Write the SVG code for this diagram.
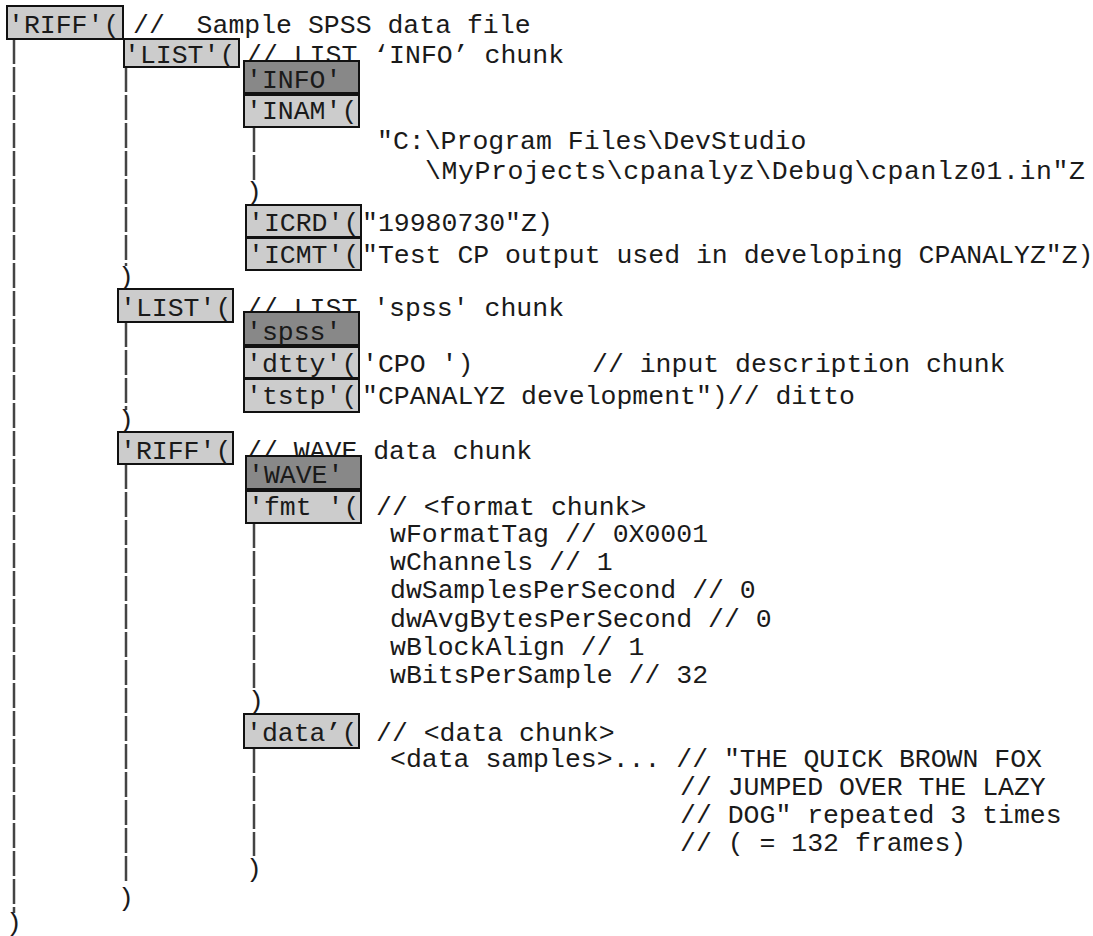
<svg xmlns="http://www.w3.org/2000/svg" width="1093" height="936" viewBox="0 0 1093 936" xml:space="preserve">
<defs>
<style>
.t{font-family:"Liberation Mono","Courier New",monospace;font-size:26.5px;fill:#1a1a1a;white-space:pre}
.b{fill:#cccccc;stroke:#111;stroke-width:2}
.d{fill:#888888;stroke:#111;stroke-width:2}
.v{stroke:#444;stroke-width:2.5;stroke-dasharray:25 3;fill:none}
</style>
</defs>
<rect x="0" y="0" width="1093" height="936" fill="#fff"/>
<g id="connectors">
<line class="v" x1="14" y1="39" x2="14" y2="913"/>
<line class="v" x1="126" y1="67" x2="126" y2="266"/>
<line class="v" x1="126" y1="322" x2="126" y2="410"/>
<line class="v" x1="126" y1="464" x2="126" y2="884"/>
<line class="v" x1="254" y1="127" x2="254" y2="180"/>
<line class="v" x1="254" y1="523" x2="254" y2="688"/>
<line class="v" x1="254" y1="748" x2="254" y2="856"/>
</g>
<g id="riff-root">
<rect class="b" x="7" y="6" width="116" height="33"/>
<text class="t" x="8" y="33">'RIFF'(</text>
<text class="t" x="133" y="33">//  Sample SPSS data file</text>
</g>
<g id="list-info">
<rect class="b" x="124" y="39" width="115" height="28"/>
<text class="t" x="124" y="63">'LIST'(</text>
<text class="t" x="246" y="63">// LIST ‘INFO’ chunk</text>
</g>
<g id="info">
<rect class="d" x="244" y="61" width="115" height="32"/>
<text class="t" x="246" y="88">'INFO'</text>
</g>
<g id="inam">
<rect class="b" x="244" y="95" width="115" height="32"/>
<text class="t" x="246" y="119">'INAM'(</text>
<text class="t" x="377" y="149">"C:\Program Files\DevStudio</text>
<text class="t" x="425" y="179" textLength="660" lengthAdjust="spacing">\MyProjects\cpanalyz\Debug\cpanlz01.in"Z</text>
<text class="t" x="246" y="200">)</text>
</g>
<g id="icrd">
<rect class="b" x="246" y="205" width="115" height="32"/>
<text class="t" x="248" y="231">'ICRD'(</text>
<text class="t" x="362" y="231">"19980730"Z)</text>
</g>
<g id="icmt">
<rect class="b" x="246" y="238" width="115" height="32"/>
<text class="t" x="248" y="263">'ICMT'(</text>
<text class="t" x="362" y="263">"Test CP output used in developing CPANALYZ"Z)</text>
<text class="t" x="118" y="285">)</text>
</g>
<g id="list-spss">
<rect class="b" x="118" y="289" width="115" height="33"/>
<text class="t" x="120" y="316">'LIST'(</text>
<text class="t" x="246" y="316">// LIST 'spss' chunk</text>
</g>
<g id="spss">
<rect class="d" x="244" y="312" width="115" height="33"/>
<text class="t" x="246" y="340">'spss'</text>
</g>
<g id="dtty">
<rect class="b" x="244" y="347" width="115" height="31"/>
<text class="t" x="246" y="372">'dtty'(</text>
<text class="t" x="362" y="372">'CPO ')</text>
<text class="t" x="592" y="372">// input description chunk</text>
</g>
<g id="tstp">
<rect class="b" x="244" y="379" width="115" height="33"/>
<text class="t" x="246" y="404">'tstp'(</text>
<text class="t" x="362" y="404">"CPANALYZ development")// ditto</text>
<text class="t" x="118" y="428">)</text>
</g>
<g id="riff-wave">
<rect class="b" x="118" y="432" width="115" height="32"/>
<text class="t" x="120" y="459">'RIFF'(</text>
<text class="t" x="246" y="459">// WAVE data chunk</text>
</g>
<g id="wave">
<rect class="d" x="246" y="456" width="115" height="33"/>
<text class="t" x="248" y="483">'WAVE'</text>
</g>
<g id="fmt">
<rect class="b" x="246" y="491" width="115" height="32"/>
<text class="t" x="248" y="515">'fmt '(</text>
<text class="t" x="376" y="515">// &lt;format chunk&gt;</text>
<text class="t" x="390" y="542">wFormatTag // 0X0001</text>
<text class="t" x="390" y="570">wChannels // 1</text>
<text class="t" x="390" y="598">dwSamplesPerSecond // 0</text>
<text class="t" x="390" y="627">dwAvgBytesPerSecond // 0</text>
<text class="t" x="390" y="655">wBlockAlign // 1</text>
<text class="t" x="390" y="683">wBitsPerSample // 32</text>
<text class="t" x="248" y="709">)</text>
</g>
<g id="data">
<rect class="b" x="244" y="714" width="115" height="34"/>
<text class="t" x="246" y="741">'data’(</text>
<text class="t" x="376" y="741">// &lt;data chunk&gt;</text>
<text class="t" x="390" y="767">&lt;data samples&gt;... // "THE QUICK BROWN FOX</text>
<text class="t" x="680" y="795">// JUMPED OVER THE LAZY</text>
<text class="t" x="680" y="823">// DOG" repeated 3 times</text>
<text class="t" x="680" y="851">// ( = 132 frames)</text>
<text class="t" x="246" y="877">)</text>
</g>
<g id="closers">
<text class="t" x="118" y="906">)</text>
<text class="t" x="6" y="931">)</text>
</g>
</svg>
